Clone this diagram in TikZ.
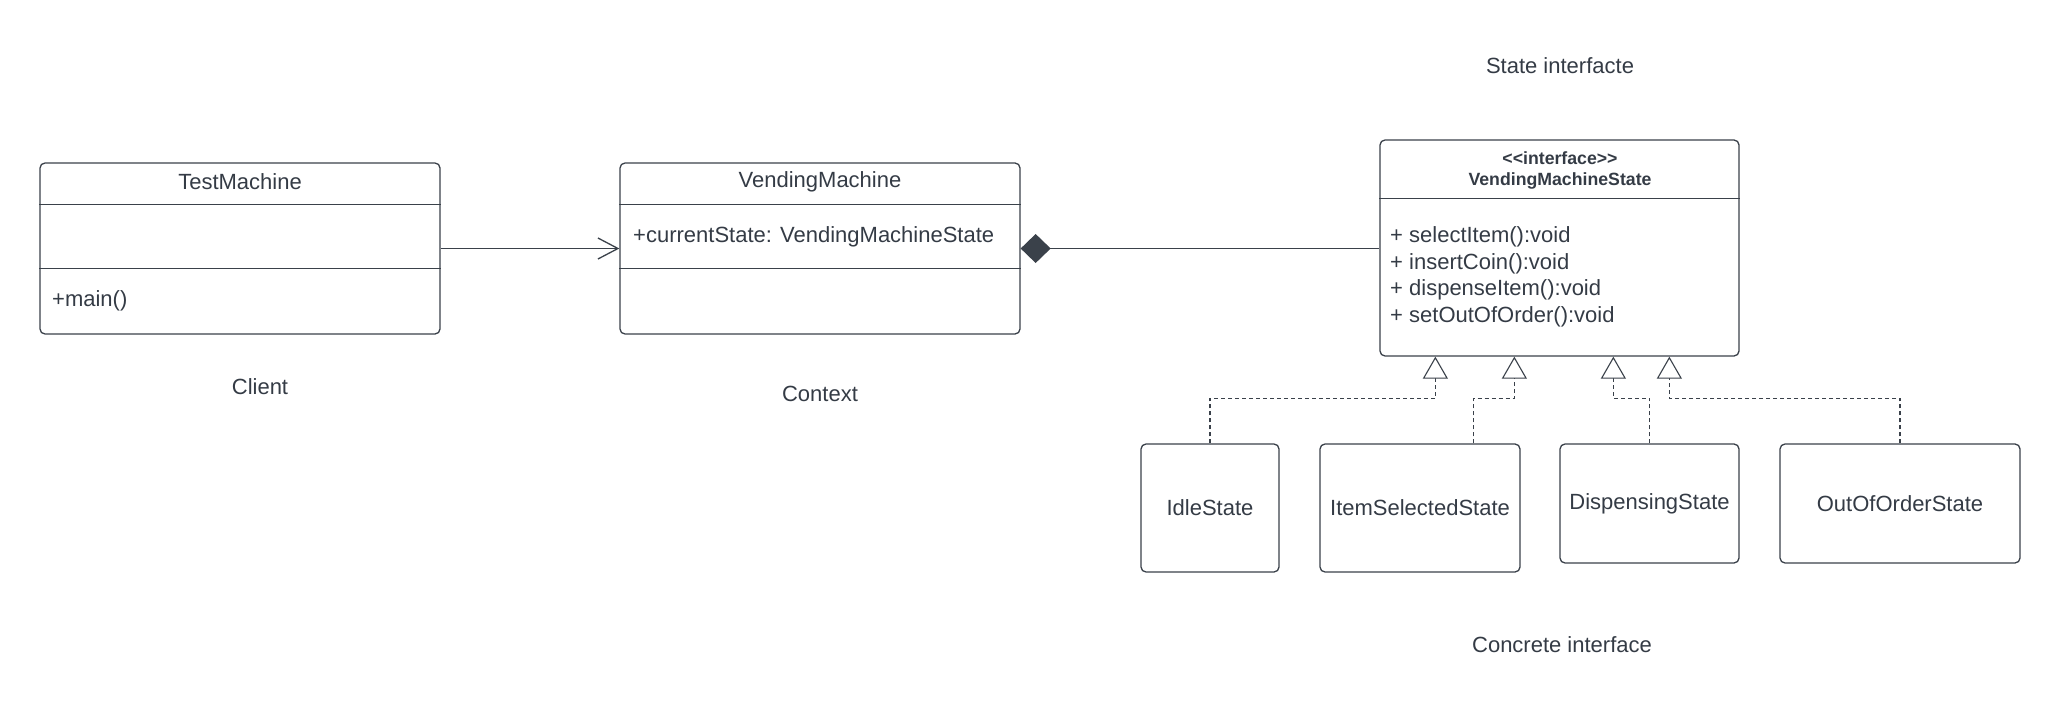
\documentclass[tikz,border=0pt]{standalone}
\usepackage{fontspec}
\setmainfont{Liberation Sans}
\usetikzlibrary{arrows.meta,calc}
\definecolor{ink}{HTML}{343B45}
\definecolor{edge}{HTML}{3A414A}
\begin{document}
\begin{tikzpicture}[x=1pt,y=-1pt,
  every node/.style={text=ink, font=\fontsize{22}{26.6}\selectfont, inner sep=0pt},
  classbox/.style={draw=edge, line width=1.3pt, rounded corners=5pt},
  divider/.style={draw=edge, line width=1.3pt},
  conn/.style={draw=edge, line width=1.3pt},
  realize/.style={draw=edge, line width=1.1pt, dash pattern=on 4pt off 3pt,
    -{Triangle[open,length=22pt,width=25pt,fill=white,line width=1.1pt]}},
  lbl/.style={anchor=center}
]
\useasboundingbox (0,0) rectangle (2060,706);

% TestMachine
\node[classbox, minimum width=400pt, minimum height=171pt] (tm) at (240,248.5) {};
\node[lbl] (tmname) at (240,182) {TestMachine};
\draw[divider] ($(tm.north west)+(0,42)$) -- ($(tm.north east)+(0,42)$);
\draw[divider] ($(tm.north west)+(0,106)$) -- ($(tm.north east)+(0,106)$);
\node[anchor=west] (tmop) at (52,301) {+main()};

% VendingMachine
\node[classbox, minimum width=400pt, minimum height=171pt] (vm) at (820,248.5) {};
\node[lbl] (vmname) at (820,182) {VendingMachine};
\draw[divider] ($(vm.north west)+(0,42)$) -- ($(vm.north east)+(0,42)$);
\draw[divider] ($(vm.north west)+(0,106)$) -- ($(vm.north east)+(0,106)$);
\node[anchor=west] (vmattr) at (633,237) {+currentState: VendingMachineState};

% Interface
\node[classbox, minimum width=359pt, minimum height=216pt] (vms) at (1559.5,248) {};
\node[lbl, font=\fontsize{17.7}{20}\bfseries] (stereo) at (1560,158) {<\kern0pt<interface>\kern0pt>};
\node[lbl, font=\fontsize{17.7}{20}\bfseries] (vmsname) at (1560,180.5) {VendingMachineState};
\draw[divider] ($(vms.north west)+(0,59)$) -- ($(vms.north east)+(0,59)$);
\node[anchor=west, align=left] (ops) at (1390,277) {+ selectItem():void\\+ insertCoin():void\\+ dispenseItem():void\\+ setOutOfOrder():void};

% Concrete states
\node[classbox, minimum width=138pt, minimum height=128pt] (idle) at (1210,508) {IdleState};
\node[classbox, minimum width=200pt, minimum height=128pt] (item) at (1420,508) {ItemSelectedState};
\node[classbox, minimum width=179pt, minimum height=119pt] (disp) at (1649.5,503.5) {DispensingState};
\node[classbox, minimum width=240pt, minimum height=119pt] (oos) at (1900,503.5) {OutOfOrderState};

% Labels
\node[lbl] (client) at (260,387) {Client};
\node[lbl] (context) at (820,394) {Context};
\node[lbl] (stlabel) at (1560,66) {State interfacte};
\node[lbl] (cclabel) at (1562,645) {Concrete interface};

% Connectors
\draw[conn, -{Straight Barb[length=20pt,width=21pt,line width=1.3pt]}] (tm.east) -- (vm.west);
\draw[conn, {Diamond[length=30pt,width=29pt,fill=edge]}-] (vm.east) -- (vm.east -| vms.west);

\draw[realize] (idle.north) -- ++(0,-45) -| ($(vms.south west)+(56,0)$);
\draw[realize] ($(item.north)+(53.5,0)$) -- ++(0,-45) -| ($(vms.south west)+(135,0)$);
\draw[realize] (disp.north) -- ++(0,-45) -| ($(vms.south west)+(234,0)$);
\draw[realize] (oos.north) -- ++(0,-45) -| ($(vms.south west)+(290,0)$);
\end{tikzpicture}
\end{document}
